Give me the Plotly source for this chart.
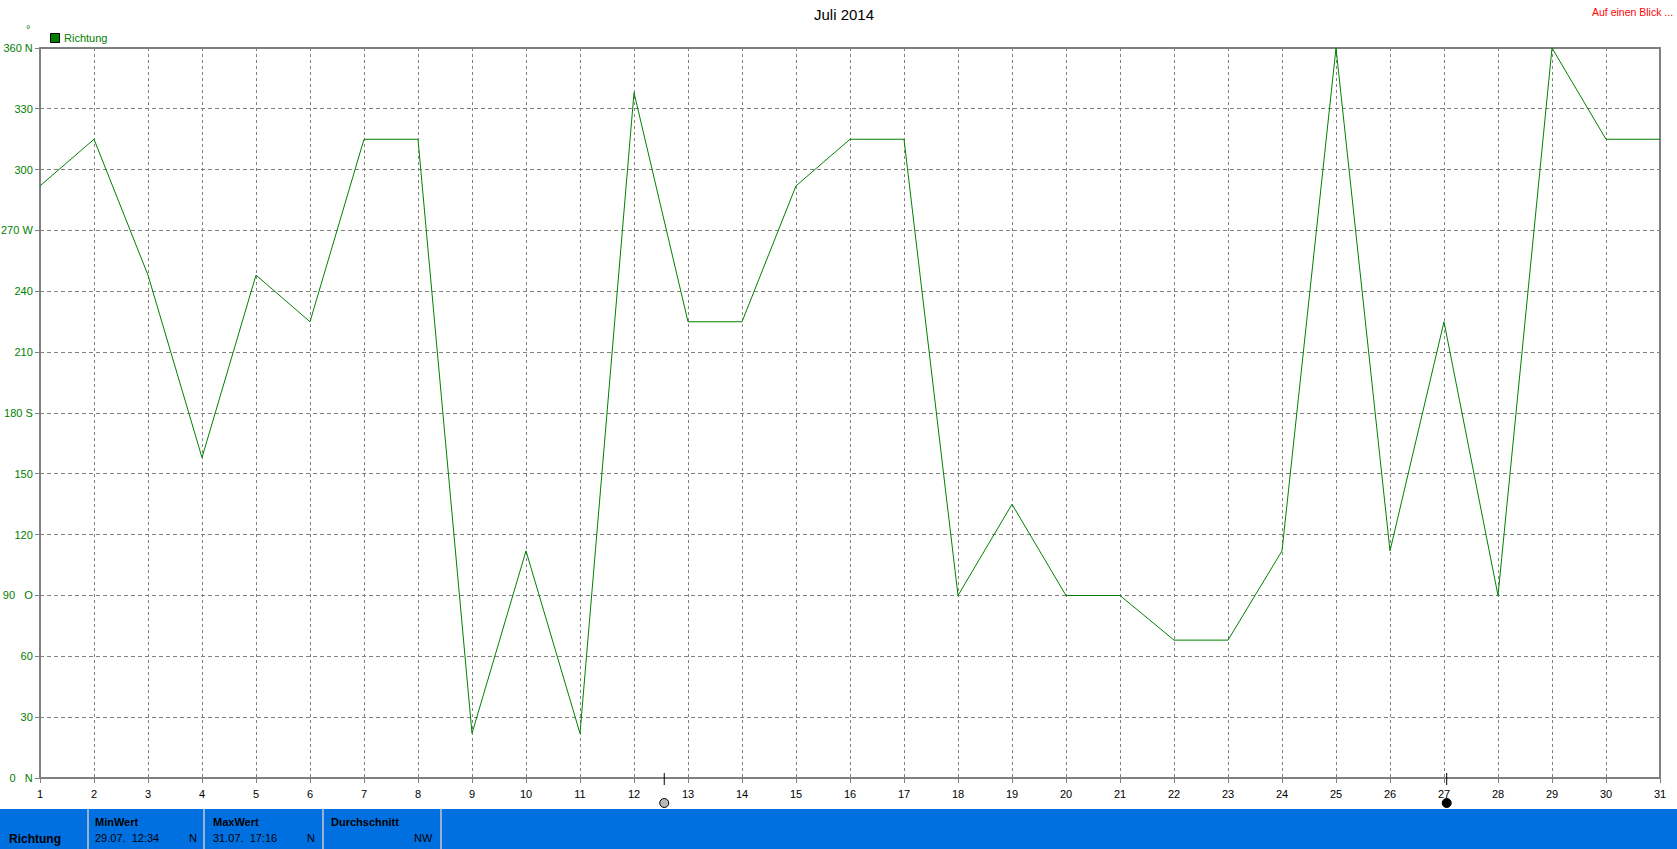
import plotly.graph_objects as go

days = list(range(1, 32))
richtung = [292, 315, 248, 158, 248, 225, 315, 315, 22, 112, 22, 338, 225, 225, 292, 315,
            315, 90, 135, 90, 90, 68, 68, 112, 360, 112, 225, 90, 360, 315, 315]
y_ticks = [0, 30, 60, 90, 120, 150, 180, 210, 240, 270, 300, 330, 360]
y_labels = ["0   N", "30", "60", "90   O", "120", "150", "180 S", "210", "240", "270 W", "300", "330", "360 N"]
title = "Juli 2014"
sun_days = [12.56, 27.05]

FONT = "Liberation Sans"
GREEN = "#008000"
GRAY = "#808080"
BLUE = "#0070E0"
W, H = 1677, 849
L, R, T, B = 40, 1660, 48, 778


def px(x):
    return (x - L) / (R - L)


def py(y):
    return (B - y) / (B - T)


fig = go.Figure()
fig.add_trace(go.Scatter(x=days, y=richtung, mode="lines", name="Richtung",
                         line=dict(color=GREEN, width=1), cliponaxis=False, showlegend=False))

shapes = [
    dict(type="rect", xref="paper", yref="paper", x0=px(0), x1=px(W), y0=py(H), y1=py(809),
         fillcolor=BLUE, line_width=0, layer="below"),
    # plot frame, centred on the plot edges
    dict(type="rect", xref="paper", yref="paper", x0=0, x1=1, y0=0, y1=1,
         line=dict(color=GRAY, width=2), layer="below"),
]
for sx in [88, 204, 323, 441]:
    shapes.append(dict(type="line", xref="paper", yref="paper", x0=px(sx), x1=px(sx),
                       y0=py(H), y1=py(809), line=dict(color="#C8C8C8", width=1.5)))
# legend swatch
shapes.append(dict(type="rect", xref="paper", yref="paper", x0=px(50.5), x1=px(59.5), y0=py(42.5), y1=py(33.5),
                   fillcolor=GREEN, line=dict(color="black", width=1)))
for d, fill in zip(sun_days, ["#B8B8B8", "black"]):
    shapes.append(dict(type="line", xref="x", yref="paper", x0=d, x1=d, y0=py(773), y1=py(785),
                       line=dict(color="black", width=1)))
    shapes.append(dict(type="circle", xref="x", yref="paper", x0=d - 4.5 / 54, x1=d + 4.5 / 54,
                       y0=py(807.5), y1=py(798.5), fillcolor=fill, line=dict(color="black", width=1)))


def txt(x, y, s, color="black", size=11, bold=False, anchor="left", family=FONT):
    return dict(xref="paper", yref="paper", x=px(x), y=py(y), text=f"<b>{s}</b>" if bold else s, showarrow=False,
                xanchor=anchor, yanchor="middle", font=dict(family=family, size=size, color=color), align=anchor,
                borderpad=0, xshift=0)


annots = [
    txt(844, 15, title, size=15, anchor="center"),
    txt(1674, 12, "Auf einen Blick ...", color="#FF0000", size=10.5, anchor="right"),
    txt(63, 38, "Richtung", color=GREEN, size=11),
    txt(28, 29, "°", color=GREEN, size=11, anchor="center"),
    txt(8, 839, "Richtung", bold=True, size=12),
    txt(94, 822, "MinWert", bold=True, size=11),
    txt(94, 838, "29.07.  12:34"),
    txt(198, 838, "N", anchor="right"),
    txt(212, 822, "MaxWert", bold=True, size=11),
    txt(212, 838, "31.07.  17:16"),
    txt(316, 838, "N", anchor="right"),
    txt(330, 822, "Durchschnitt", bold=True, size=11),
    txt(434, 838, "NW", anchor="right"),
]

fig.update_layout(
    template=None,
    width=W, height=H, autosize=False,
    margin=dict(l=L, r=W - R, t=T, b=H - B, pad=0),
    paper_bgcolor="white", plot_bgcolor="white",
    font=dict(family=FONT, size=11, color="black"),
    shapes=shapes, annotations=annots, showlegend=False,
    xaxis=dict(range=[1, 31], automargin=False, tickmode="array", tickvals=days, ticktext=[str(d) for d in days],
               showgrid=True, gridcolor=GRAY, griddash="3px,3px", gridwidth=1, zeroline=False,
               showline=False, ticklabelstandoff=2,
               ticks="outside", ticklen=4, tickcolor=GRAY, tickfont=dict(color="black", size=11, family=FONT)),
    yaxis=dict(range=[0, 360], automargin=False, tickmode="array", tickvals=y_ticks, ticktext=y_labels,
               showgrid=True, gridcolor=GRAY, griddash="4px,3px", gridwidth=1, zeroline=False,
               showline=False,
               ticks="outside", ticklen=4, tickcolor=GRAY, tickfont=dict(color=GREEN, size=11, family=FONT)),
)
fig.write_html("out.html", config={"displayModeBar": False},
               post_script="document.body.style.margin='0';document.body.style.overflow='hidden';")
